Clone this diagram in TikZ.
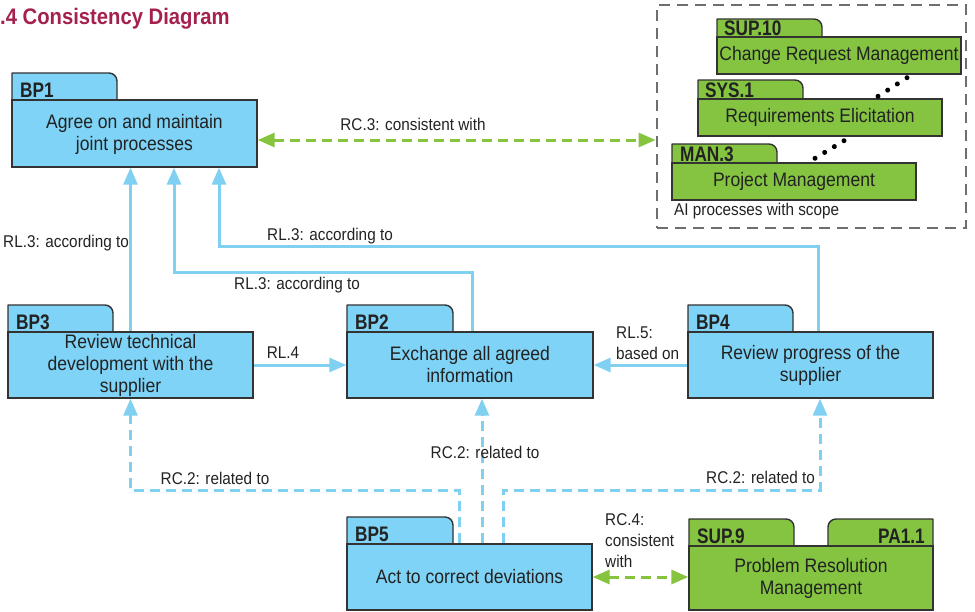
\documentclass[tikz,border=0pt]{standalone}
\usepackage{fontspec}
\setmainfont{Liberation Sans}[FakeStretch=0.9]
\newfontfamily\tagfont{Liberation Sans}[FakeStretch=0.82]
\usetikzlibrary{arrows.meta,decorations.markings}

\definecolor{bpblue}{HTML}{7ED3F6}
\definecolor{linkblue}{HTML}{80D0F2}
\definecolor{procgreen}{HTML}{84C441}
\definecolor{linkgreen}{HTML}{86C440}
\definecolor{edge}{HTML}{333333}
\definecolor{titlered}{HTML}{A4204E}
\definecolor{ink}{HTML}{222222}
\definecolor{framegray}{HTML}{6E6E6E}

% folder tab: left x, right x, tab top, body top, fill (rounded top-right corner)
\newcommand\proctab[5]{%
  \draw[tabedge, fill=#5] (#1,#4) -- (#1,#3) -- ({#2-8},#3)
    .. controls ({#2-3.6},#3) and (#2,{#3+3.6}) .. (#2,{#3+8}) -- (#2,#4);}
% same tab, rounded on its top-left corner
\newcommand\proctabR[5]{%
  \draw[tabedge, fill=#5] (#1,#4) -- (#1,{#3+8})
    .. controls (#1,{#3+3.6}) and ({#1+3.6},#3) .. ({#1+8},#3) -- (#2,#3) -- (#2,#4);}

\begin{document}
\begin{tikzpicture}[x=1pt,y=-1pt,
  tabedge/.style={draw=edge, line width=1.4pt, line join=round},
  bodybox/.style={draw=edge, line width=1.4pt, inner sep=0pt, align=center, text=ink,
    font=\fontsize{19.5}{22}\selectfont},
  bluebody/.style={bodybox, fill=bpblue, minimum width=245pt, minimum height=66pt},
  greenbody/.style={bodybox, fill=procgreen, minimum width=244pt, minimum height=37pt},
  tablabel/.style={anchor=base west, inner sep=0pt, text=ink, font=\tagfont\bfseries\fontsize{21}{22}\selectfont},
  linklabel/.style={inner sep=0pt, text=ink, font=\fontsize{17}{21}\selectfont, align=left},
  rl/.style={draw=linkblue, line width=3pt, -{Triangle[length=17pt,width=14pt]}},
  rc2/.style={rl, dash pattern=on 10pt off 6pt},
  rcg/.style={draw=linkgreen, line width=3pt, dash pattern=on 10pt off 6pt,
    {Triangle[length=17pt,width=14pt]}-{Triangle[length=17pt,width=14pt]}},
  dotlink/.style={postaction={decorate, decoration={markings,
    mark=at position 0 with {\fill[black] (0,0) circle (2.5pt);},
    mark=at position 0.3333 with {\fill[black] (0,0) circle (2.5pt);},
    mark=at position 0.6667 with {\fill[black] (0,0) circle (2.5pt);},
    mark=at position 0.999 with {\fill[black] (0,0) circle (2.5pt);}}}}
]
\useasboundingbox (0,0) rectangle (975,611);

% title
\node[anchor=base west, inner sep=0pt, text=titlered, font=\bfseries\fontsize{22.5}{24}\selectfont]
  (title) at (0,24) {.4 Consistency Diagram};

% frame around the processes in scope
\node[draw=framegray, line width=2.8pt, dash pattern=on 11pt off 7pt,
  minimum width=309pt, minimum height=223pt, inner sep=0pt] (aiframe) at (811.5,116.5) {};

% tabs
\proctab{12}{117}{73}{100}{bpblue}
\proctab{8}{113}{305}{332}{bpblue}
\proctab{347}{453}{305}{332}{bpblue}
\proctab{688}{793}{305}{332}{bpblue}
\proctab{347}{453}{517}{544}{bpblue}
\proctab{689}{794}{519}{546}{procgreen}
\proctabR{828}{933}{519}{546}{procgreen}
\proctab{717}{822}{19}{37}{procgreen}
\proctab{698}{803}{80}{99}{procgreen}
\proctab{672}{777}{144}{163}{procgreen}

% base practices
\node[bluebody, minimum height=67pt] (bp1) at (134.5,133.5) {\strut Agree on and maintain\\joint processes};
\node[bluebody] (bp3) at (130.5,365) {Review technical\\development with the\\supplier};
\node[bluebody, minimum width=246pt] (bp2) at (470,365) {Exchange all agreed\\information};
\node[bluebody] (bp4) at (810.5,365) {Review progress of the\\supplier};
\node[bluebody] (bp5) at (469.5,577) {Act to correct deviations};

% processes
\node[bodybox, fill=procgreen, minimum width=244pt, minimum height=64pt] (sup9) at (811,578) {Problem Resolution\\Management};
\node[greenbody] (sup10) at (839,55.5) {Change Request Management};
\node[greenbody] (sys1) at (820,117.5) {Requirements Elicitation};
\node[greenbody] (man3) at (794,181.5) {Project Management};

% tab labels
\node[tablabel] (bp1tag) at (20,97) {BP1};
\node[tablabel] (bp3tag) at (16,329) {BP3};
\node[tablabel] (bp2tag) at (355,329) {BP2};
\node[tablabel] (bp4tag) at (696,329) {BP4};
\node[tablabel] (bp5tag) at (355,541) {BP5};
\node[tablabel] (sup9tag) at (697,543) {SUP.9};
\node[tablabel, anchor=base east] (pa11tag) at (925,543) {PA1.1};
\node[tablabel] (sup10tag) at (724,35) {SUP.10};
\node[tablabel] (sys1tag) at (705,97) {SYS.1};
\node[tablabel] (man3tag) at (680,161) {MAN.3};

% bend points
\coordinate (k2) at (174,272);
\coordinate (k3) at (219,246);
\coordinate (k4) at (130.5,490);
\coordinate (k5) at (820,490);

% relations
\draw[rl] (bp3.north) -- (bp3.north |- bp1.south);
\draw[rl] ([xshift=2pt]bp2.north) |- (k2) -- (k2 |- bp1.south);
\draw[rl] ([xshift=7.5pt]bp4.north) |- (k3) -- (k3 |- bp1.south);
\draw[rl] (bp3.east) -- (bp2.west);
\draw[rl] (bp4.west) -- (bp2.east);
\draw[rc2] ([xshift=-10.5pt]bp5.north) |- (k4) -- (bp3.south);
\draw[rc2] ([xshift=12.5pt]bp5.north) -- ([xshift=12.5pt]bp5.north |- bp2.south);
\draw[rc2] ([xshift=33.5pt]bp5.north) |- (k5) -- (k5 |- bp4.south);
\draw[rcg] ([yshift=-6.5pt]bp1.east) -- ([yshift=-6.5pt]bp1.east -| aiframe.west);
\draw[rcg] (bp5.east) -- (bp5.east -| sup9.west);

% dotted links between the processes in scope
\path[dotlink] ([shift={(68pt,-3pt)}]sup10.south) -- ([shift={(58pt,2pt)}]sys1.north);
\path[dotlink] ([shift={(24pt,-4pt)}]sys1.south) -- ([shift={(21pt,4pt)}]man3.north);

% relation labels
\node[linklabel] (rc3lbl) at (413,124) {RC.3: consistent with};
\node[linklabel, anchor=east] (rl3a) at (129,243) {RL.3: according to};
\node[linklabel] (rl3b) at (297,285) {RL.3: according to};
\node[linklabel] (rl3c) at (330,236) {RL.3: according to};
\node[linklabel] (rl4) at (283,353) {RL.4};
\node[linklabel, anchor=west] (rl5) at (616,343) {RL.5:\\based on};
\node[linklabel] (rc2a) at (215,478) {RC.2: related to};
\node[linklabel] (rc2b) at (485,452) {RC.2: related to};
\node[linklabel, anchor=east] (rc2c) at (815,477) {RC.2: related to};
\node[linklabel, anchor=west] (rc4) at (605,541) {RC.4:\\consistent\\with};
\node[linklabel, anchor=west] (scope) at (674,211) {AI processes with scope};
\end{tikzpicture}
\end{document}
